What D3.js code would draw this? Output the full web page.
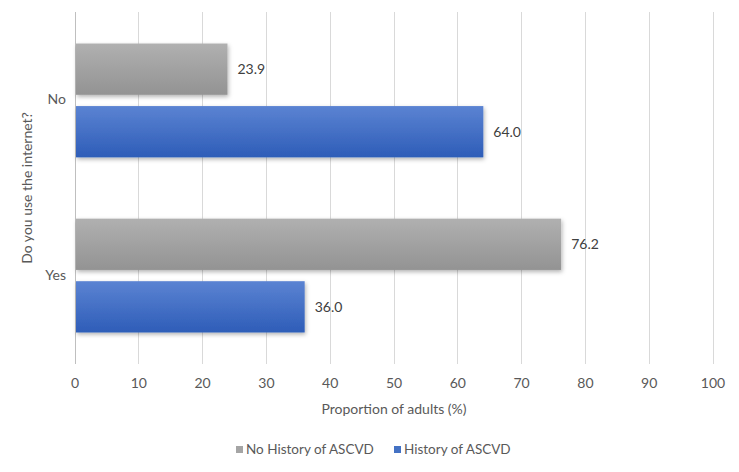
<html>
<script src="https://d3js.org/d3.v7.min.js"></script>
<body style="margin:0; background:#fff;">
<div id="chart_area"></div>
<script>
// data
let categories = ["No", "Yes"];
let seriesNames = ["No History of ASCVD", "History of ASCVD"];
let noHistory = [23.9, 76.2];
let history = [64.0, 36.0];
let xTicks = [0, 10, 20, 30, 40, 50, 60, 70, 80, 90, 100];

let width = 739, height = 472;
let margin = {left: 75, right: 26, top: 12, bottom: 108};
let font = "Lato, 'Open Sans', sans-serif";
let textColor = "#595959";

let svg = d3.select("#chart_area").append("svg")
    .attr("width", width)
    .attr("height", height)
    .style("font-family", font);

let defs = svg.append("defs");
function grad(id, top, bottom) {
    let g = defs.append("linearGradient").attr("id", id)
        .attr("x1", 0).attr("y1", 0).attr("x2", 0).attr("y2", 1);
    g.append("stop").attr("offset", "0%").attr("stop-color", top);
    g.append("stop").attr("offset", "100%").attr("stop-color", bottom);
}
grad("gGray", "#b0b0b0", "#939393");
grad("gBlue", "#5b83d2", "#2e5db8");
let f = defs.append("filter").attr("id", "shadow")
    .attr("x", "-5%").attr("y", "-20%").attr("width", "115%").attr("height", "150%");
f.append("feDropShadow").attr("dx", 1).attr("dy", 2).attr("stdDeviation", 2)
    .attr("flood-color", "#000").attr("flood-opacity", 0.3);

let x = d3.scaleLinear().domain([0, 100]).range([margin.left, width - margin.right]);
let y = d3.scaleBand().domain(categories).range([margin.top, height - margin.bottom]).paddingInner(0.35).paddingOuter(0.18);
let sub = d3.scaleBand().domain(seriesNames).range([0, y.bandwidth()]).paddingInner(0.18);

// gridlines
svg.append("g").selectAll("line")
    .data(xTicks)
    .join("line")
    .attr("x1", d => x(d)).attr("x2", d => x(d))
    .attr("y1", margin.top).attr("y2", height - margin.bottom)
    .attr("stroke", d => d == 0 ? "#bfbfbf" : "#d9d9d9")
    .attr("stroke-width", 1)
    .attr("shape-rendering", "crispEdges");

// tick labels
svg.append("g").selectAll("text")
    .data(xTicks)
    .join("text")
    .attr("x", d => x(d))
    .attr("y", height - margin.bottom + 24)
    .attr("text-anchor", "middle")
    .attr("fill", textColor)
    .style("font-size", "14px")
    .text(d => d);

// category labels
svg.append("g").selectAll("text")
    .data(categories)
    .join("text")
    .attr("x", margin.left - 9)
    .attr("y", d => y(d) + y.bandwidth() / 2 + 4)
    .attr("text-anchor", "end")
    .attr("fill", textColor)
    .style("font-size", "14px")
    .text(d => d);

let series = [
    {name: seriesNames[0], values: noHistory, fill: "url(#gGray)", color: "#a5a5a5"},
    {name: seriesNames[1], values: history, fill: "url(#gBlue)", color: "#4472c4"}
];

series.forEach(s => {
    let rows = categories.map((c, i) => ({cat: c, v: s.values[i]}));
    svg.append("g").selectAll("rect")
        .data(rows)
        .join("rect")
        .attr("x", x(0) + 1)
        .attr("y", d => y(d.cat) + sub(s.name))
        .attr("width", d => x(d.v) - x(0) - 1)
        .attr("height", sub.bandwidth())
        .attr("fill", s.fill)
        .attr("filter", "url(#shadow)");
    svg.append("g").selectAll("text")
        .data(rows)
        .join("text")
        .attr("x", d => x(d.v) + 10)
        .attr("y", d => y(d.cat) + sub(s.name) + sub.bandwidth() / 2 + 5)
        .attr("fill", "#404040")
        .style("font-size", "14px")
        .text(d => d.v.toFixed(1));
});

// axis titles
svg.append("text")
    .attr("x", (x(0) + x(100)) / 2)
    .attr("y", height - margin.bottom + 50)
    .attr("text-anchor", "middle")
    .attr("fill", textColor)
    .style("font-size", "14px")
    .text("Proportion of adults (%)");

svg.append("text")
    .attr("transform", "translate(32," + ((margin.top + height - margin.bottom) / 2) + ") rotate(-90)")
    .attr("text-anchor", "middle")
    .attr("fill", textColor)
    .style("font-size", "14px")
    .text("Do you use the internet?");

// legend
let legendX = [236, 394];
let legend = svg.append("g").selectAll("g")
    .data(series)
    .join("g")
    .attr("transform", (d, i) => "translate(" + legendX[i] + "," + 450 + ")");
legend.append("rect")
    .attr("x", 0).attr("y", -4).attr("width", 7).attr("height", 7)
    .attr("fill", d => d.color);
legend.append("text")
    .attr("x", 10).attr("y", 4)
    .attr("fill", textColor)
    .style("font-size", "13.5px")
    .text(d => d.name);
</script>
</body>
</html>
